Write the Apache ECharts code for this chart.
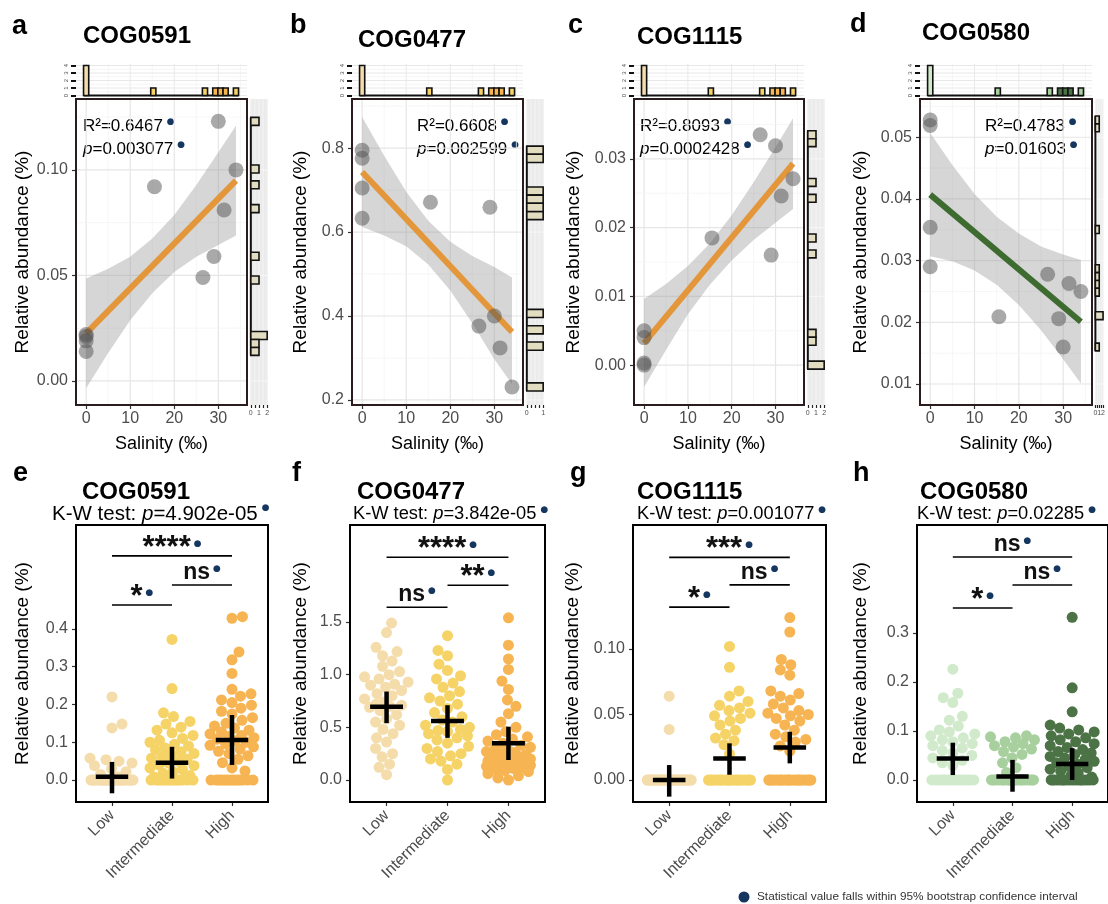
<!DOCTYPE html>
<html><head><meta charset="utf-8">
<script src="https://cdn.jsdelivr.net/npm/echarts@6/dist/echarts.min.js"></script>
<style>html,body{margin:0;padding:0;background:#fff}#c{width:1108px;height:904px}</style>
</head><body><div id="c"></div>
<script>
// ---------------- DATA ----------------
const categories = ['Low', 'Intermediate', 'High'];
const salinity = [0, 0, 0, 0, 15.5, 26.5, 29, 30, 31.3, 34];
const sampleGroup = [0, 0, 0, 0, 1, 1, 2, 2, 2, 1];
const abundA = [0.022, 0.021, 0.019, 0.014, 0.092, 0.049, 0.059, 0.123, 0.081, 0.100];
const abundB = [0.795, 0.776, 0.705, 0.633, 0.671, 0.376, 0.659, 0.400, 0.324, 0.231];
const abundC = [0.005, 0.004, 0.0003, 0.0, 0.0185, 0.0335, 0.016, 0.0319, 0.0246, 0.0271];
const abundD = [0.0528, 0.0519, 0.0354, 0.0290, 0.0209, 0.0278, 0.0206, 0.016, 0.0263, 0.0250];
const regX = [0, 34];
const regYA = [0.0225, 0.0949];
const regYB = [0.743, 0.362];
const regYC = [0.0032, 0.0293];
const regYD = [0.0407, 0.0201];
const bandX = [0, 5, 10, 15, 20, 25, 30, 34];
const bandLoA = [-0.0035, 0.0132, 0.0288, 0.0415, 0.0516, 0.0588, 0.0644, 0.0689];
const bandHiA = [0.0485, 0.0532, 0.0588, 0.0675, 0.0786, 0.0928, 0.1084, 0.1209];
const bandLoB = [0.612, 0.592, 0.566, 0.523, 0.461, 0.383, 0.297, 0.238];
const bandHiB = [0.874, 0.782, 0.696, 0.627, 0.577, 0.543, 0.517, 0.492];
const bandLoC = [-0.0032, 0.0022, 0.0074, 0.0117, 0.0152, 0.0182, 0.0207, 0.0227];
const bandHiC = [0.0096, 0.0118, 0.0144, 0.0177, 0.0218, 0.0266, 0.0317, 0.0359];
const bandLoD = [0.0307, 0.0299, 0.0284, 0.0261, 0.0228, 0.0187, 0.0140, 0.0101];
const bandHiD = [0.0507, 0.0455, 0.0408, 0.0371, 0.0344, 0.0323, 0.0310, 0.0301];
const statR2 = ['0.6467', '0.6608', '0.8093', '0.4783'];
const statP = ['0.003077', '0.002599', '0.0002428', '0.01603'];
const cogNames = ['COG0591', 'COG0477', 'COG1115', 'COG0580'];
const kwP = ['4.902e-05', '3.842e-05', '0.001077', '0.02285'];

const salTicks = [0, 10, 20, 30];
const salMinor = [5, 15, 25, 35];
const yTicksA = [0, 0.05, 0.10], yMinorA = [0.025, 0.075, 0.125];
const yTicksB = [0.2, 0.4, 0.6, 0.8], yMinorB = [0.3, 0.5, 0.7, 0.9];
const yTicksC = [0, 0.01, 0.02, 0.03], yMinorC = [0.005, 0.015, 0.025, 0.035];
const yTicksD = [0.01, 0.02, 0.03, 0.04, 0.05], yMinorD = [0.015, 0.025, 0.035, 0.045, 0.055];

const lowE = [0.22, 0.148, 0.138, 0.058, 0.054, 0.05, 0.045, 0.038, 0.03, 0.022, 0.015, 0.008, 0,0,0,0,0,0,0,0,0,0,0,0,0,0,0,0,0,0,0,0,0,0,0,0,0,0];
const intE = [0.372, 0.242, 0.178, 0.168, 0.155, 0.148, 0.14, 0.132, 0.125, 0.118, 0.11, 0.105, 0.1, 0.095, 0.09, 0.085, 0.08, 0.075, 0.07, 0.068, 0.062, 0.058, 0.055, 0.05, 0.045, 0.04, 0.038, 0.032, 0.028, 0.022, 0.018, 0.012, 0.008, 0.004, 0,0,0,0,0,0,0,0,0,0,0,0,0,0];
const highE = [0.432, 0.428, 0.339, 0.318, 0.282, 0.24, 0.228, 0.222, 0.212, 0.205, 0.198, 0.19, 0.182, 0.175, 0.165, 0.158, 0.15, 0.143, 0.138, 0.132, 0.127, 0.122, 0.118, 0.115, 0.112, 0.108, 0.104, 0.1, 0.096, 0.092, 0.088, 0.082, 0.076, 0.07, 0.064, 0.055, 0.046, 0.032, 0.024, 0,0,0,0,0,0,0,0,0,0,0,0,0,0];
const lowF = [1.49, 1.40, 1.26, 1.22, 1.18, 1.13, 1.08, 1.03, 1.0, 0.98, 0.96, 0.93, 0.91, 0.9, 0.88, 0.85, 0.82, 0.8, 0.77, 0.74, 0.72, 0.71, 0.7, 0.69, 0.66, 0.62, 0.58, 0.55, 0.52, 0.48, 0.44, 0.4, 0.36, 0.3, 0.25, 0.22, 0.15, 0.12, 0.05];
const intF = [1.37, 1.23, 1.18, 1.1, 1.04, 0.99, 0.96, 0.92, 0.88, 0.84, 0.8, 0.78, 0.75, 0.72, 0.68, 0.64, 0.6, 0.57, 0.55, 0.52, 0.5, 0.48, 0.47, 0.46, 0.44, 0.42, 0.4, 0.38, 0.35, 0.32, 0.3, 0.27, 0.25, 0.23, 0.2, 0.18, 0.15, 0.1, 0.0];
const highF = [1.54, 1.28, 1.15, 1.05, 0.94, 0.86, 0.76, 0.7, 0.63, 0.55, 0.5, 0.46, 0.43, 0.41, 0.39, 0.37, 0.35, 0.33, 0.31, 0.3, 0.28, 0.27, 0.26, 0.25, 0.24, 0.23, 0.22, 0.21, 0.2, 0.2, 0.19, 0.18, 0.18, 0.17, 0.16, 0.15, 0.15, 0.14, 0.13, 0.12, 0.11, 0.1, 0.09, 0.08, 0.06, 0.04, 0.02, 0.0];
const lowG = [0.064, 0.0386, 0,0,0,0,0,0,0,0,0,0,0,0,0,0,0,0,0,0,0,0,0,0,0,0,0,0,0,0,0,0,0,0,0,0,0,0];
const intG = [0.102, 0.086, 0.068, 0.064, 0.06, 0.057, 0.055, 0.053, 0.051, 0.049, 0.047, 0.045, 0.042, 0.038, 0.035, 0.032, 0.03, 0.027, 0.02, 0,0,0,0,0,0,0,0,0,0,0,0,0,0,0,0,0,0,0,0,0,0];
const highG = [0.124, 0.113, 0.092, 0.088, 0.084, 0.08, 0.068, 0.066, 0.064, 0.061, 0.058, 0.055, 0.053, 0.051, 0.05, 0.049, 0.047, 0.045, 0.042, 0.038, 0.035, 0.033, 0.031, 0.029, 0.026, 0.022, 0,0,0,0,0,0,0,0,0,0,0,0,0,0,0,0,0,0,0,0,0,0];
const lowH = [0.226, 0.177, 0.168, 0.158, 0.13, 0.122, 0.11, 0.102, 0.098, 0.094, 0.09, 0.086, 0.082, 0.078, 0.074, 0.07, 0.065, 0.06, 0.055, 0.05, 0.045, 0.04, 0.035, 0.03, 0,0,0,0,0,0,0,0,0,0,0,0,0,0,0,0,0,0];
const intH = [0.09, 0.088, 0.086, 0.082, 0.078, 0.074, 0.07, 0.067, 0.063, 0.058, 0.052, 0.045, 0.035, 0.025, 0.015, 0,0,0,0,0,0,0,0,0,0,0,0,0,0,0,0,0,0,0,0,0,0,0,0,0];
const highH = [0.332, 0.188, 0.139, 0.112, 0.106, 0.102, 0.098, 0.094, 0.09, 0.086, 0.082, 0.078, 0.074, 0.07, 0.066, 0.062, 0.058, 0.055, 0.052, 0.048, 0.045, 0.042, 0.038, 0.035, 0.032, 0.028, 0.025, 0.022, 0.018, 0.014, 0.01, 0.006, 0,0,0,0,0,0,0,0,0,0,0,0,0,0,0,0,0,0,0,0];

const crossMeanE = [0.009, 0.046, 0.106], crossLoE = [-0.035, 0.004, 0.040], crossHiE = [0.048, 0.088, 0.172];
const crossMeanF = [0.696, 0.56, 0.348], crossLoF = [0.54, 0.40, 0.19], crossHiF = [0.84, 0.71, 0.506];
const crossMeanG = [0.0, 0.0165, 0.0249], crossLoG = [-0.0127, 0.004, 0.0127], crossHiG = [0.0114, 0.028, 0.0368];
const crossMeanH = [0.044, 0.0068, 0.0327], crossLoH = [0.010, -0.024, 0.0], crossHiH = [0.076, 0.041, 0.065];

const brFrom = [1, 2, 1], brTo = [3, 3, 2];
const brYE = [0.593, 0.516, 0.463], brLabE = ['****', 'ns', '*'];
const brYF = [2.116, 1.85, 1.64], brLabF = ['****', '**', 'ns'];
const brYG = [0.170, 0.149, 0.132], brLabG = ['***', 'ns', '*'];
const brYH = [0.455, 0.398, 0.351], brLabH = ['ns', 'ns', '*'];

const yTicksE = [0, 0.1, 0.2, 0.3, 0.4];
const yTicksF = [0, 0.5, 1.0, 1.5];
const yTicksG = [0, 0.05, 0.10];
const yTicksH = [0, 0.1, 0.2, 0.3];
const legendText = 'Statistical value falls within 95% bootstrap confidence interval';

// ---------------- STYLE / LAYOUT ----------------
const FONT = '"Liberation Sans", Arial, Helvetica, sans-serif';
const NAVY = '#15375f';
const GREY = '#4d4d4d';
const PAL_Y = ['#f4dcab', '#f5d366', '#f6b452'];
const PAL_G = ['#d2eacc', '#a7d09e', '#4b7346'];
const ORANGE = '#e3963a', GREEN = '#3e6b2f';

const topLayout = [
  {left: 76, width: 171, yMin: -0.0114, yMax: 0.1336, ticks: yTicksA, minor: yMinorA, dec: 2, gap: 44, line: ORANGE, pal: PAL_Y, y: abundA, reg: regYA, lo: bandLoA, hi: bandHiA, statX: 83, letter: 'a', lx: 12, ly: 27, tx: 83, ty: 36, hMax: 2.1, hTicks: [0, 0.5, 1, 1.5, 2], hLabels: [0, 1, 2]},
  {left: 352, width: 171, yMin: 0.188, yMax: 0.917, ticks: yTicksB, minor: yMinorB, dec: 1, gap: 42, line: ORANGE, pal: PAL_Y, y: abundB, reg: regYB, lo: bandLoB, hi: bandHiB, statX: 417, letter: 'b', lx: 290, ly: 26, tx: 358, ty: 40, hMax: 1.05, hTicks: [0, 0.25, 0.5, 0.75, 1], hLabels: [0, 1]},
  {left: 634, width: 170, yMin: -0.0058, yMax: 0.0387, ticks: yTicksC, minor: yMinorC, dec: 2, gap: 51, line: ORANGE, pal: PAL_Y, y: abundC, reg: regYC, lo: bandLoC, hi: bandHiC, statX: 640, letter: 'c', lx: 568, ly: 26, tx: 637, ty: 37, hMax: 2.1, hTicks: [0, 0.5, 1, 1.5, 2], hLabels: [0, 1, 2]},
  {left: 920, width: 172, yMin: 0.0066, yMax: 0.0562, ticks: yTicksD, minor: yMinorD, dec: 2, gap: 50, line: GREEN, pal: PAL_G, y: abundD, reg: regYD, lo: bandLoD, hi: bandHiD, statX: 985, letter: 'd', lx: 850, ly: 25, tx: 922, ty: 33, hMax: 2.1, hTicks: [0, 0.5, 1, 1.5, 2], hLabels: [0, 1, 2]}
];
const TOP_Y = 99, TOP_H = 306, HIST_Y = 64, HIST_H = 33;
const X_MIN = -2.3, X_MAX = 36.5;

const botLayout = [
  {left: 76, width: 192, yMin: -0.058, yMax: 0.6746, ticks: yTicksE, dec: 1, gap: 44, pal: PAL_Y, groups: [lowE, intE, highE], cm: crossMeanE, cl: crossLoE, ch: crossHiE, by: brYE, bl: brLabE, letter: 'e', lx: 13, tx: 82, kx: 52, kf: 20.5},
  {left: 350, width: 195, yMin: -0.209, yMax: 2.4216, ticks: yTicksF, dec: 1, gap: 40, pal: PAL_Y, groups: [lowF, intF, highF], cm: crossMeanF, cl: crossLoF, ch: crossHiF, by: brYF, bl: brLabF, letter: 'f', lx: 292, tx: 357, kx: 353, kf: 18.3},
  {left: 633, width: 193, yMin: -0.0168, yMax: 0.1947, ticks: yTicksG, dec: 2, gap: 51, pal: PAL_Y, groups: [lowG, intG, highG], cm: crossMeanG, cl: crossLoG, ch: crossHiG, by: brYG, bl: brLabG, letter: 'g', lx: 570, tx: 637, kx: 637, kf: 18.3},
  {left: 917, width: 195, yMin: -0.045, yMax: 0.5204, ticks: yTicksH, dec: 1, gap: 47, pal: PAL_G, groups: [lowH, intH, highH], cm: crossMeanH, cl: crossLoH, ch: crossHiH, by: brYH, bl: brLabH, letter: 'h', lx: 853, tx: 920, kx: 917, kf: 18.3}
];
const BOT_Y = 525, BOT_H = 277;

// ---------------- HELPERS ----------------
function histogram(values, groups) {
  const mn = Math.min(...values), mx = Math.max(...values), w = (mx - mn) / 29;
  const bins = new Map();
  values.forEach((v, i) => {
    const k = Math.round((v - mn) / w);
    if (!bins.has(k)) bins.set(k, {count: 0, group: groups ? groups[i] : 0});
    bins.get(k).count++;
  });
  return {mn, mx, w, bins: [...bins].map(([k, b]) => ({center: mn + k * w, count: b.count, group: b.group}))};
}
function beeswarm(pys, d, W) {
  const idx = pys.map((_, i) => i).sort((a, b) => pys[b] - pys[a]);
  const placed = [], off = new Array(pys.length).fill(0);
  for (const i of idx) {
    const y = pys[i];
    let bestX = 0, bestD = -1, found = false;
    const signs = placed.length % 2 ? [-1, 1] : [1, -1];
    for (let k = 0; k <= W && !found; k += 0.5) {
      for (const s of (k === 0 ? [1] : signs)) {
        const x = s * k;
        let md = Infinity;
        for (const p of placed) {
          const dy = p.y - y;
          if (Math.abs(dy) < d) { const dd = Math.hypot(p.x - x, dy); if (dd < md) md = dd; }
        }
        if (md >= d) { bestX = x; found = true; break; }
        if (md > bestD) { bestD = md; bestX = x; }
      }
    }
    off[i] = bestX; placed.push({x: bestX, y});
  }
  return off;
}
const grids = [], xAxes = [], yAxes = [], series = [], graphics = [];
const NOLINE = {show: false, onZero: false};
function addGrid(l, t, w, h, extra) {
  grids.push(Object.assign({left: l, top: t, width: w, height: h, containLabel: false, show: false}, extra || {}));
  return grids.length - 1;
}
function hiddenAxis(gi, min, max) {
  return {gridIndex: gi, type: 'value', min, max, axisLine: NOLINE, axisTick: {show: false}, axisLabel: {show: false}, splitLine: {show: false}};
}
function gridLines(gi, xs, ys, z) {
  series.push({type: 'custom', xAxisIndex: gi, yAxisIndex: gi, silent: true, z: z || 1, clip: true, data: [[0, 0]],
    renderItem: (p, api) => {
      const cs = p.coordSys, ch = [];
      xs.forEach(([v, c, w]) => { const x = api.coord([v, 0])[0]; ch.push({type: 'line', shape: {x1: x, y1: cs.y, x2: x, y2: cs.y + cs.height}, style: {stroke: c, lineWidth: w}}); });
      ys.forEach(([v, c, w]) => { const y = api.coord([0, v])[1]; ch.push({type: 'line', shape: {x1: cs.x, y1: y, x2: cs.x + cs.width, y2: y}, style: {stroke: c, lineWidth: w}}); });
      return {type: 'group', children: ch};
    }});
}
function border(gi, color, width) {
  series.push({type: 'custom', xAxisIndex: gi, yAxisIndex: gi, silent: true, z: 20, clip: false, data: [[0, 0]],
    renderItem: (p) => { const cs = p.coordSys; return {type: 'rect', shape: {x: cs.x, y: cs.y, width: cs.width, height: cs.height}, style: {fill: 'none', stroke: color, lineWidth: width}}; }});
}
function text(x, y, str, o) {
  graphics.push({type: 'text', x, y, silent: true, style: Object.assign({text: str, fill: '#000', fontFamily: FONT, fontSize: 16, align: 'left', verticalAlign: 'middle'}, o || {})});
}
const dotRich = {fontSize: 9, fill: NAVY, fontFamily: '"DejaVu Sans", sans-serif', verticalAlign: 'top', padding: [0, 0, 0, 4]};

// ---------------- TOP PANELS ----------------
const topHist = histogram(salinity, sampleGroup);
topLayout.forEach((L, pi) => {
  const gi = addGrid(L.left, TOP_Y, L.width, TOP_H);
  xAxes.push({gridIndex: gi, type: 'value', min: X_MIN, max: X_MAX, axisLine: NOLINE, splitLine: {show: false},
    axisTick: {show: true, customValues: salTicks, length: 4, lineStyle: {color: '#333', width: 1.2}},
    axisLabel: {customValues: salTicks, color: GREY, fontSize: 16, fontFamily: FONT, margin: 6},
    name: 'Salinity (‰)', nameLocation: 'middle', nameGap: 30, nameTextStyle: {fontSize: 18, fontFamily: FONT, color: '#000'}});
  yAxes.push({gridIndex: gi, type: 'value', min: L.yMin, max: L.yMax, axisLine: NOLINE, splitLine: {show: false},
    axisTick: {show: true, customValues: L.ticks, length: 4, lineStyle: {color: '#333', width: 1.2}},
    axisLabel: {customValues: L.ticks, formatter: v => Number(v).toFixed(L.dec), color: GREY, fontSize: 16, fontFamily: FONT, margin: 8},
    name: 'Relative abundance (%)', nameLocation: 'middle', nameGap: L.gap, nameTextStyle: {fontSize: 19, fontFamily: FONT, color: '#000'}});
  gridLines(gi,
    salMinor.map(v => [v, '#f4f4f4', 0.8]).concat(salTicks.map(v => [v, '#e6e6e6', 1.2])),
    L.minor.map(v => [v, '#f4f4f4', 0.8]).concat(L.ticks.map(v => [v, '#e6e6e6', 1.2])));
  const lo = L.lo, hi = L.hi;
  series.push({type: 'custom', xAxisIndex: gi, yAxisIndex: gi, silent: true, z: 2, clip: true, data: [[bandX[0], lo[0]]],
    renderItem: (p, api) => {
      const pts = [];
      bandX.forEach((x, i) => pts.push(api.coord([x, hi[i]])));
      for (let i = bandX.length - 1; i >= 0; i--) pts.push(api.coord([bandX[i], lo[i]]));
      return {type: 'polygon', shape: {points: pts}, style: {fill: 'rgba(153,153,153,0.4)'}};
    }});
  series.push({type: 'line', xAxisIndex: gi, yAxisIndex: gi, z: 3, silent: true, showSymbol: false, symbol: 'none', clip: true,
    data: regX.map((x, i) => [x, L.reg[i]]), lineStyle: {color: L.line, width: 6, cap: 'butt'}});
  series.push({type: 'scatter', xAxisIndex: gi, yAxisIndex: gi, z: 4, silent: true, symbolSize: 15,
    data: salinity.map((s, i) => [s, L.y[i]]), itemStyle: {color: 'rgba(80,80,80,0.62)'}});
  border(gi, '#2a1c1c', 2);

  const hg = addGrid(L.left, HIST_Y, L.width, HIST_H);
  xAxes.push(hiddenAxis(hg, X_MIN, X_MAX));
  yAxes.push({gridIndex: hg, type: 'value', min: -0.2, max: 4.2, axisLine: NOLINE, splitLine: {show: false},
    axisTick: {show: true, customValues: [0, 1, 2, 3, 4], length: 5, lineStyle: {color: '#111', width: 2}},
    axisLabel: {customValues: [0, 1, 2, 3, 4], fontSize: 6, rotate: 90, color: GREY, margin: 7, fontFamily: FONT}});
  gridLines(hg,
    salMinor.map(v => [v, '#f2f2f2', 0.8]).concat(salTicks.map(v => [v, '#e8e8e8', 1])),
    [0.5, 1.5, 2.5, 3.5].map(v => [v, '#f2f2f2', 0.8]).concat([0, 1, 2, 3, 4].map(v => [v, '#e8e8e8', 1])));
  const th = topHist, pal = L.pal;
  series.push({type: 'custom', xAxisIndex: hg, yAxisIndex: hg, silent: true, z: 3, clip: false, data: th.bins.map(b => [b.center, b.count]),
    renderItem: (p, api) => {
      const b = th.bins[p.dataIndex];
      const a = api.coord([b.center - th.w / 2, b.count]), c = api.coord([b.center + th.w / 2, 0]);
      return {type: 'rect', shape: {x: a[0], y: a[1], width: c[0] - a[0], height: c[1] - a[1]}, style: {fill: pal[b.group], stroke: '#111', lineWidth: 1.6}};
    }});
  series.push({type: 'line', xAxisIndex: hg, yAxisIndex: hg, z: 2, silent: true, symbol: 'none', clip: false,
    data: [[th.mn - th.w / 2, 0], [th.mx + th.w / 2, 0]], lineStyle: {color: '#111', width: 2}});

  const rh = histogram(L.y, null);
  const rg = addGrid(L.left + L.width + 3, TOP_Y, 18, TOP_H, {show: true, backgroundColor: '#ebebeb', borderWidth: 0});
  xAxes.push({gridIndex: rg, type: 'value', min: -L.hMax * 0.05 / 1.05, max: L.hMax, axisLine: NOLINE, splitLine: {show: false},
    axisTick: {show: true, customValues: L.hTicks, length: 3, lineStyle: {color: '#222', width: 1.2}},
    axisLabel: {customValues: L.hLabels, fontSize: 7, color: GREY, margin: 5, fontFamily: FONT}});
  yAxes.push(hiddenAxis(rg, L.yMin, L.yMax));
  gridLines(rg, L.hTicks.map(v => [v, '#f7f7f7', 0.8]), L.ticks.map(v => [v, '#f7f7f7', 1]));
  series.push({type: 'custom', xAxisIndex: rg, yAxisIndex: rg, silent: true, z: 3, clip: false, data: rh.bins.map(b => [b.count, b.center]),
    renderItem: (p, api) => {
      const b = rh.bins[p.dataIndex];
      const a = api.coord([0, b.center + rh.w / 2]), c = api.coord([b.count, b.center - rh.w / 2]);
      return {type: 'rect', shape: {x: a[0], y: a[1], width: c[0] - a[0], height: c[1] - a[1]}, style: {fill: '#e2dcc0', stroke: '#111', lineWidth: 1.6}};
    }});
  series.push({type: 'line', xAxisIndex: rg, yAxisIndex: rg, z: 2, silent: true, symbol: 'none', clip: false,
    data: [[0, rh.mn - rh.w / 2], [0, rh.mx + rh.w / 2]], lineStyle: {color: '#111', width: 2}});

  text(L.lx, L.ly, L.letter, {fontSize: 27, fontWeight: 'bold'});
  text(L.tx, L.ty, cogNames[pi], {fontSize: 24, fontWeight: 'bold'});
  const rich = {t: {fontSize: 17, fontFamily: FONT, fill: '#000'}, i: {fontSize: 17, fontFamily: FONT, fontStyle: 'italic', fill: '#000'}, d: dotRich};
  text(L.statX, 126, '{t|R²=' + statR2[pi] + '}{d|●}', {rich});
  text(L.statX, 149, '{i|p}{t|=' + statP[pi] + '}{d|●}', {rich});
});

// ---------------- BOTTOM PANELS ----------------
const swarmRefs = [];
botLayout.forEach((L, pi) => {
  const gi = addGrid(L.left, BOT_Y, L.width, BOT_H);
  xAxes.push({gridIndex: gi, type: 'value', min: 0.4, max: 3.6, axisLine: NOLINE, splitLine: {show: false},
    axisTick: {show: true, customValues: [1, 2, 3], length: 4, lineStyle: {color: '#333', width: 1.2}},
    axisLabel: {customValues: [1, 2, 3], formatter: v => categories[Math.round(v) - 1], rotate: 45, color: GREY, fontSize: 16, fontFamily: FONT, margin: 11}});
  yAxes.push({gridIndex: gi, type: 'value', min: L.yMin, max: L.yMax, axisLine: NOLINE, splitLine: {show: false},
    axisTick: {show: true, customValues: L.ticks, length: 4, lineStyle: {color: '#333', width: 1.2}},
    axisLabel: {customValues: L.ticks, formatter: v => Number(v).toFixed(L.dec), color: GREY, fontSize: 16, fontFamily: FONT, margin: 8},
    name: 'Relative abundance (%)', nameLocation: 'middle', nameGap: L.gap, nameTextStyle: {fontSize: 19, fontFamily: FONT, color: '#000'}});
  L.groups.forEach((vals, g) => {
    const id = 'pts-' + pi + '-' + g;
    swarmRefs.push({id, gi, g, vals});
    series.push({id, type: 'scatter', xAxisIndex: gi, yAxisIndex: gi, z: 3, silent: true, symbolSize: 11,
      data: vals.map(v => [g + 1, v]), itemStyle: {color: L.pal[g], opacity: 1}});
  });
  const cm = L.cm, cl = L.cl, chh = L.ch;
  series.push({type: 'custom', xAxisIndex: gi, yAxisIndex: gi, silent: true, z: 6, clip: false, data: cm.map((m, g) => [g + 1, m]),
    renderItem: (p, api) => {
      const g = p.dataIndex, x = g + 1;
      const h1 = api.coord([x - 0.27, cm[g]]), h2 = api.coord([x + 0.27, cm[g]]);
      const v1 = api.coord([x, cl[g]]), v2 = api.coord([x, chh[g]]);
      return {type: 'group', children: [
        {type: 'line', shape: {x1: h1[0], y1: h1[1], x2: h2[0], y2: h2[1]}, style: {stroke: '#000', lineWidth: 4.5}},
        {type: 'line', shape: {x1: v1[0], y1: v1[1], x2: v2[0], y2: v2[1]}, style: {stroke: '#000', lineWidth: 4.5}}]};
    }});
  const by = L.by, bl = L.bl;
  series.push({type: 'custom', xAxisIndex: gi, yAxisIndex: gi, silent: true, z: 7, clip: false, data: by.map((y, i) => [(brFrom[i] + brTo[i]) / 2, y]),
    renderItem: (p, api) => {
      const i = p.dataIndex;
      const p1 = api.coord([brFrom[i], by[i]]), p2 = api.coord([brTo[i], by[i]]);
      const isStar = bl[i].indexOf('*') >= 0;
      return {type: 'group', children: [
        {type: 'line', shape: {x1: p1[0], y1: p1[1], x2: p2[0], y2: p2[1]}, style: {stroke: '#000', lineWidth: 1.6}},
        {type: 'text', x: (p1[0] + p2[0]) / 2, y: p1[1] + (isStar ? 8 : -1), style: {text: '{s|' + bl[i] + '}{d|●}', align: 'center', verticalAlign: 'bottom',
          rich: {s: {fontSize: isStar ? 31 : 23, fontWeight: 'bold', fontFamily: FONT, fill: '#111'}, d: Object.assign({}, dotRich, {padding: [isStar ? 6 : 3, 0, 0, 3]})}}}]};
    }});
  border(gi, '#000', 2);
  text(L.lx, 474, L.letter, {fontSize: 27, fontWeight: 'bold'});
  text(L.tx, 492, cogNames[pi], {fontSize: 24, fontWeight: 'bold'});
  const rich = {t: {fontSize: L.kf, fontFamily: FONT, fill: '#000'}, i: {fontSize: L.kf, fontFamily: FONT, fontStyle: 'italic', fill: '#000'}, d: dotRich};
  text(L.kx, 514, '{t|K-W test: }{i|p}{t|=' + kwP[pi] + '}{d|●}', {rich});
});

graphics.push({type: 'circle', silent: true, shape: {cx: 744, cy: 897, r: 5.5}, style: {fill: NAVY}});
text(757, 897, legendText, {fontSize: 11.8, fill: '#333'});

const chart = echarts.init(document.getElementById('c'));
chart.setOption({animation: false, backgroundColor: '#fff', grid: grids, xAxis: xAxes, yAxis: yAxes, series, graphic: {elements: graphics}});

// beeswarm layout using the chart's own scales
const updates = swarmRefs.map(r => {
  const pys = r.vals.map(v => chart.convertToPixel({gridIndex: r.gi}, [r.g + 1, v])[1]);
  const ppu = chart.convertToPixel({gridIndex: r.gi}, [2, 0])[0] - chart.convertToPixel({gridIndex: r.gi}, [1, 0])[0];
  const off = beeswarm(pys, 10.5, 22);
  return {id: r.id, data: r.vals.map((v, i) => [r.g + 1 + off[i] / ppu, v])};
});
chart.setOption({series: updates});
</script></body></html>
